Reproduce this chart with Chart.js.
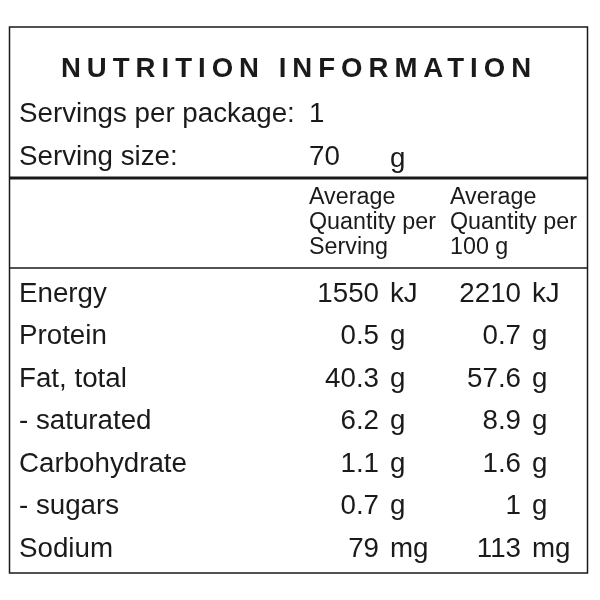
<!DOCTYPE html>
<html>
<head>
<meta charset="utf-8">
<script src="https://cdn.jsdelivr.net/npm/chart.js@4/dist/chart.umd.min.js"></script>
<style>
  html, body { margin: 0; padding: 0; background: #fff; }
  #panel { width: 600px; height: 600px; }
</style>
</head>
<body>
<div id="panel"><canvas id="nutrition" width="600" height="600"></canvas></div>
<script>
  // ---------- Data ----------
  const title = "NUTRITION INFORMATION";
  const servingsLabel = "Servings per package:";
  const servingsValue = "1";
  const sizeLabel = "Serving size:";
  const sizeValue = "70";
  const sizeUnit = "g";
  const headPerServing = ["Average", "Quantity per", "Serving"];
  const headPer100 = ["Average", "Quantity per", "100 g"];
  const nutrients = ["Energy", "Protein", "Fat, total", "- saturated", "Carbohydrate", "- sugars", "Sodium"];
  const perServing = ["1550", "0.5", "40.3", "6.2", "1.1", "0.7", "79"];
  const per100g = ["2210", "0.7", "57.6", "8.9", "1.6", "1", "113"];
  const units = ["kJ", "g", "g", "g", "g", "g", "mg"];

  const FONT = "\"Liberation Sans\", Arial, sans-serif";
  const INK = "#1a1a1a";

  // pick a font size so that sample text reaches the width seen in the reference
  function fitSize(ctx, weight, text, width) {
    ctx.font = `${weight} 20px ${FONT}`;
    return 20 * width / ctx.measureText(text).width;
  }

  // ---------- Table plugin ----------
  const tablePlugin = {
    id: "nutritionTable",
    afterDraw(chart) {
      const ctx = chart.ctx;
      ctx.save();
      ctx.fillStyle = "#fff";
      ctx.fillRect(0, 0, 600, 600);

      // frame + rules
      ctx.strokeStyle = INK;
      ctx.lineWidth = 1.5;
      ctx.strokeRect(9.5, 27, 578, 546);
      ctx.lineWidth = 3;
      ctx.beginPath(); ctx.moveTo(9, 178); ctx.lineTo(588, 178); ctx.stroke();
      ctx.lineWidth = 1.5;
      ctx.beginPath(); ctx.moveTo(9, 268); ctx.lineTo(588, 268); ctx.stroke();

      ctx.fillStyle = INK;
      ctx.textBaseline = "middle";

      const body = fitSize(ctx, "normal", servingsLabel, 276);
      const head = fitSize(ctx, "normal", "Quantity per", 127);

      // title
      ctx.letterSpacing = "6px";
      const t = fitSize(ctx, "bold", title, 524);
      ctx.font = `bold ${t}px ${FONT}`;
      ctx.textAlign = "center";
      ctx.fillText(title, 299, 69);
      ctx.letterSpacing = "0px";

      // serving info
      ctx.font = `${body}px ${FONT}`;
      ctx.textAlign = "left";
      ctx.fillText(servingsLabel, 19, 114);
      ctx.fillText(servingsValue, 309, 114);
      ctx.fillText(sizeLabel, 19, 157);
      ctx.fillText(sizeValue, 309, 157);
      ctx.fillText(sizeUnit, 390, 159);

      // column headers
      ctx.font = `${head}px ${FONT}`;
      headPerServing.forEach((s, i) => ctx.fillText(s, 309, 198 + i * 25));
      headPer100.forEach((s, i) => ctx.fillText(s, 450, 198 + i * 25));

      // rows
      ctx.font = `${body}px ${FONT}`;
      nutrients.forEach((name, i) => {
        const y = 294 + i * 42.5;
        ctx.textAlign = "left";
        ctx.fillText(name, 19, y);
        ctx.fillText(units[i], 390, y);
        ctx.fillText(units[i], 532, y);
        ctx.textAlign = "right";
        ctx.fillText(perServing[i], 379, y);
        ctx.fillText(per100g[i], 521, y);
      });
      ctx.restore();
    },
  };

  new Chart(document.getElementById("nutrition"), {
    type: "bar",
    data: { labels: nutrients, datasets: [] },
    options: {
      responsive: false,
      animation: false,
      plugins: { legend: { display: false }, tooltip: { enabled: false } },
      scales: { x: { display: false }, y: { display: false } },
    },
    plugins: [tablePlugin],
  });
</script>
</body>
</html>
